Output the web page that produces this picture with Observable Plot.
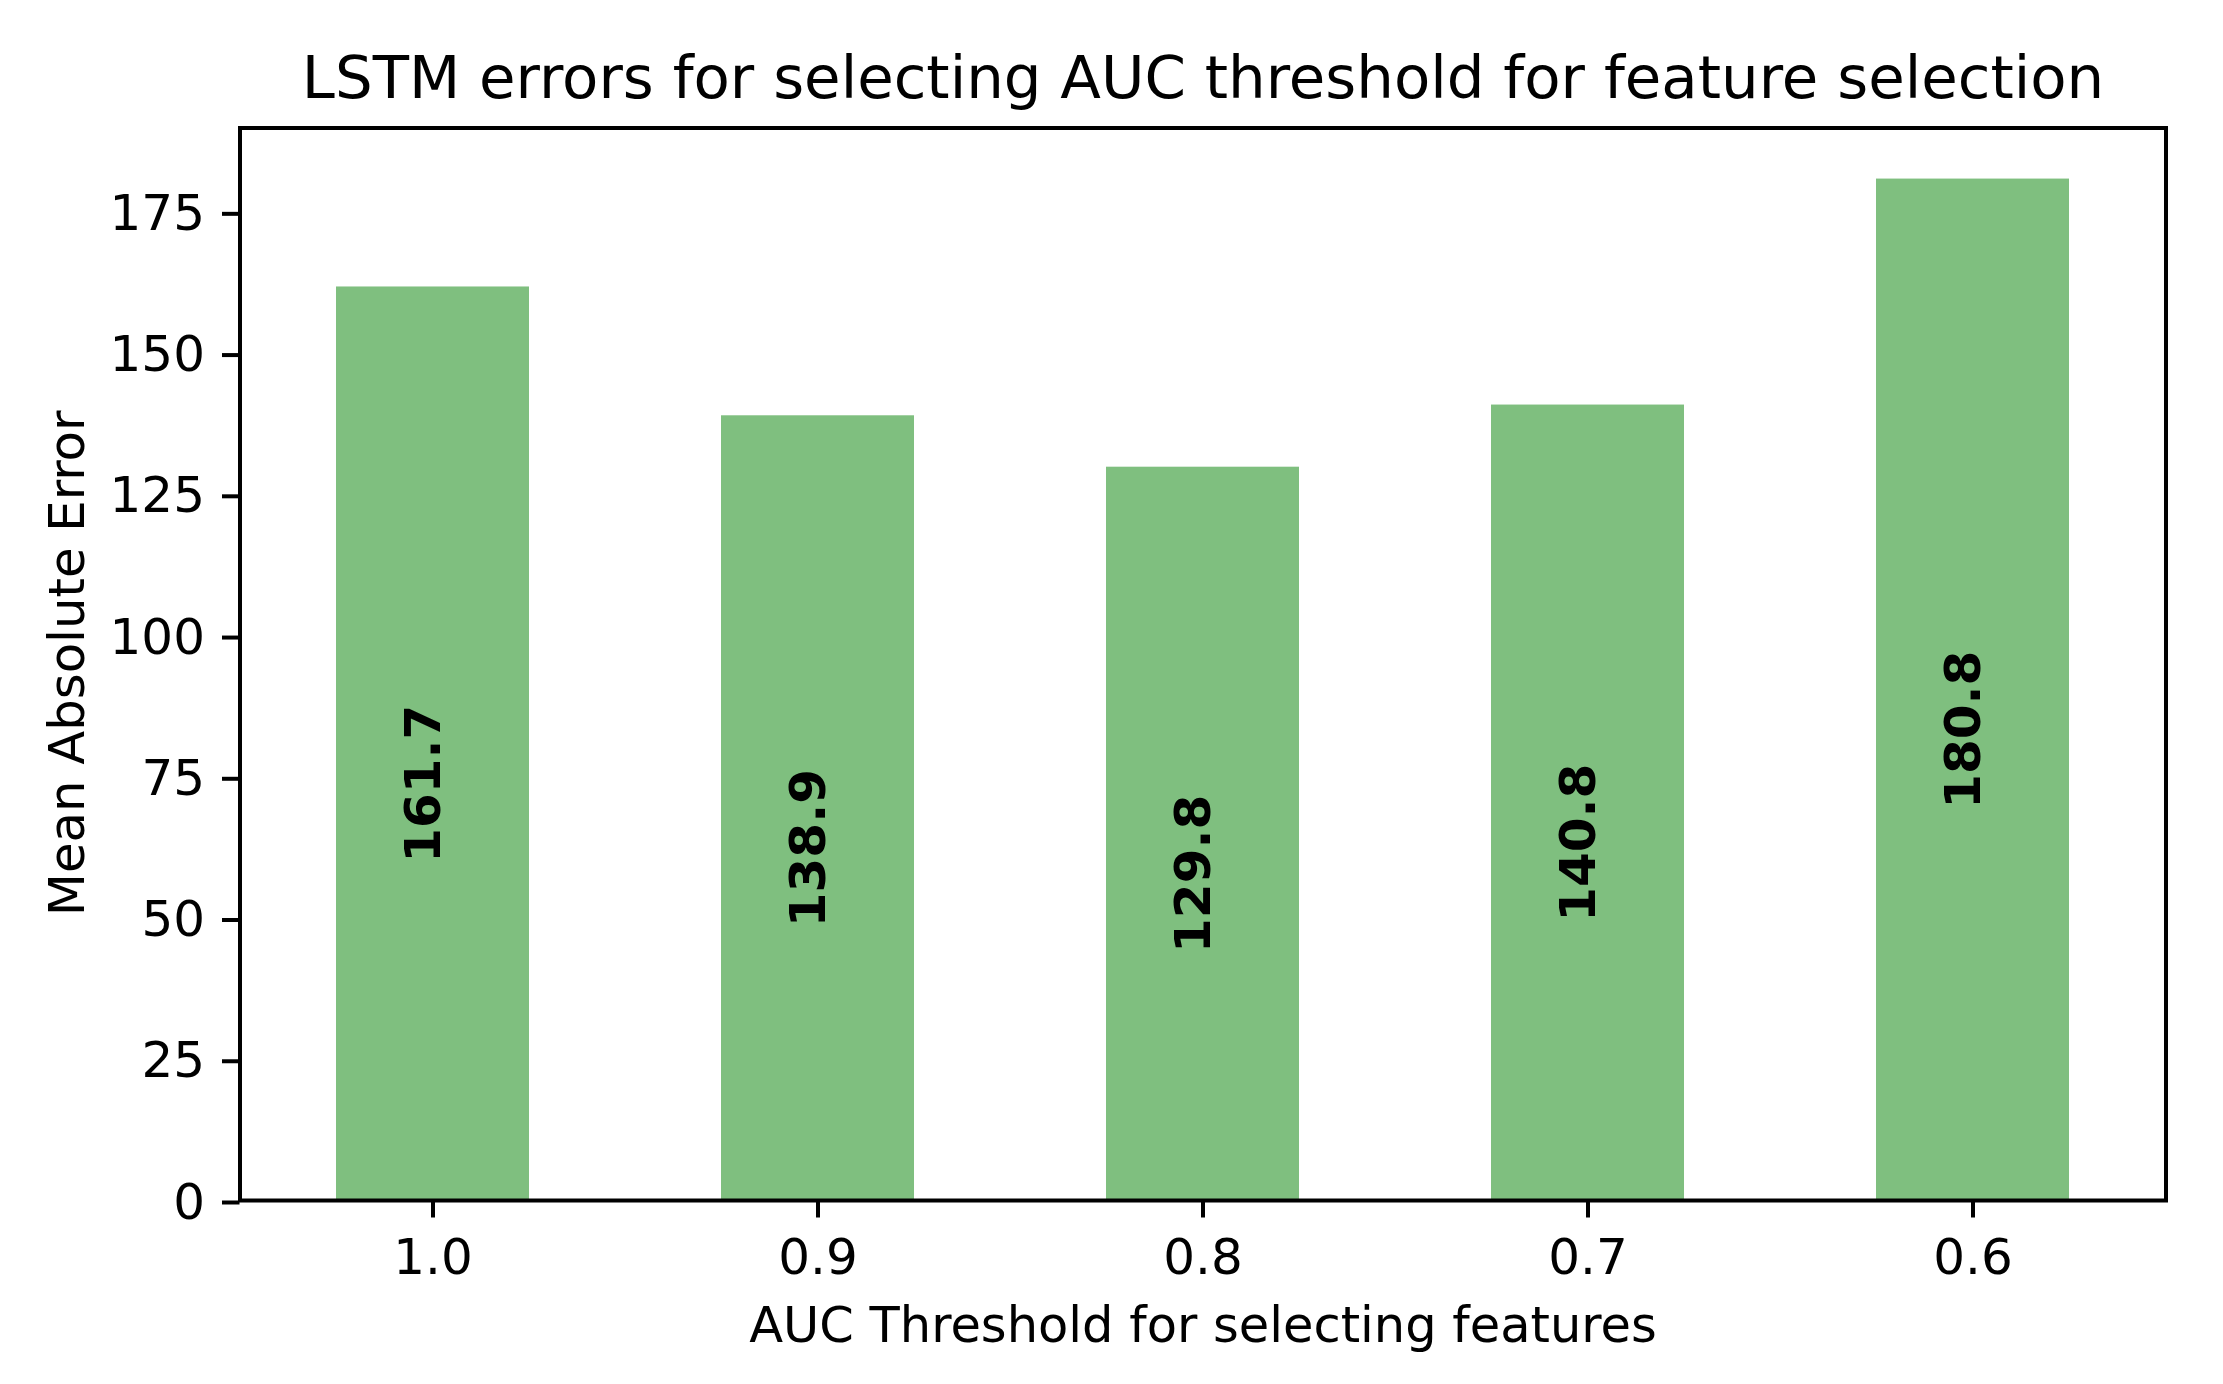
<!DOCTYPE html>
<html>
<head>
<meta charset="utf-8">
<script src="https://cdn.jsdelivr.net/npm/d3@7"></script>
<script src="https://cdn.jsdelivr.net/npm/@observablehq/plot@0.6"></script>
<style>
  html, body { margin: 0; padding: 0; background: #ffffff; overflow: hidden; }
  #chart svg { display: block; }
</style>
</head>
<body>
<div id="chart"></div>
<script>
const thresholds = ["1.0", "0.9", "0.8", "0.7", "0.6"];
const errors = [161.7, 138.9, 129.8, 140.8, 180.8];
const yTicks = [0, 25, 50, 75, 100, 125, 150, 175];
const titleText = "LSTM errors for selecting AUC threshold for feature selection";
const xLabelText = "AUC Threshold for selecting features";
const yLabelText = "Mean Absolute Error";

const data = thresholds.map((t, i) => ({t, v: errors[i]}));
const yMax = d3.max(errors) * 1.05;

const chart = Plot.plot({
  width: 2223,
  height: 1384,
  marginLeft: 239.5,
  marginRight: 57.5,
  marginTop: 127.5,
  marginBottom: 184,
  style: {fontFamily: "DejaVu Sans", fontSize: "50px", background: "#ffffff", color: "#000000"},
  x: {type: "band", domain: thresholds, paddingInner: 0.5, paddingOuter: 0.25, label: null},
  y: {domain: [0, yMax], label: null},
  marks: [
    Plot.barY(data, {x: "t", y: "v", fill: "#7fbf7f"}),
    Plot.text(data, {
      x: "t", y: d => d.v / 2, text: d => d.v.toFixed(1),
      rotate: -90, lineAnchor: "bottom", textAnchor: "middle",
      dx: 6.5, dy: 40, fontWeight: "bold", fontSize: 50, fill: "#000000"
    }),
    Plot.axisX({tickSize: 17.5, tickPadding: 20, fontSize: 50, strokeWidth: 4, label: null}),
    Plot.axisY({ticks: yTicks, tickSize: 17.5, tickPadding: 17.5, fontSize: 50, strokeWidth: 4, dy: 2, label: null}),
    Plot.frame({stroke: "#000000", strokeWidth: 4}),
    Plot.text([titleText], {text: d => d, frameAnchor: "top", lineAnchor: "bottom", dy: -30.2, fontSize: 59.4, fill: "#000000"}),
    Plot.text([xLabelText], {text: d => d, frameAnchor: "bottom", lineAnchor: "bottom", dy: 141, fontSize: 49.5, fill: "#000000"}),
    Plot.text([yLabelText], {text: d => d, frameAnchor: "left", rotate: -90, lineAnchor: "bottom", textAnchor: "middle", dx: -156, dy: -1, fontSize: 49.7, fill: "#000000"})
  ]
});
document.getElementById("chart").appendChild(chart);
</script>
</body>
</html>
